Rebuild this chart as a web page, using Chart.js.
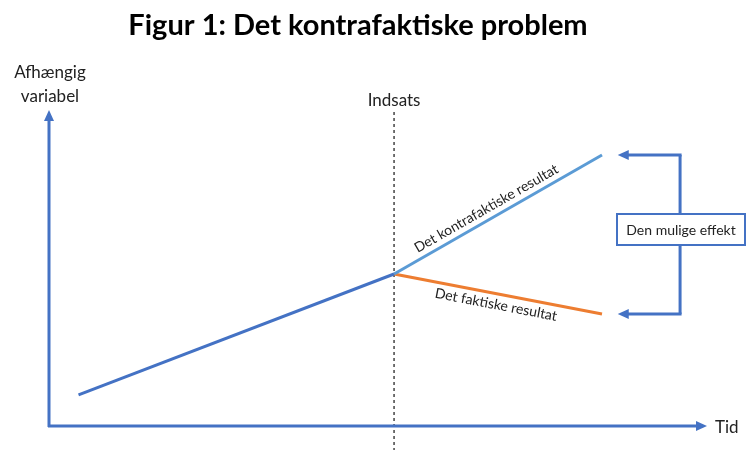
<!DOCTYPE html>
<html>
<head>
<meta charset="utf-8">
<script src="https://cdn.jsdelivr.net/npm/chart.js@4"></script>
<style>
  body { margin: 0; background: #fff; }
  #wrap { width: 755px; height: 450px; position: relative; }
</style>
</head>
<body>
<div id="wrap"><canvas id="figur"></canvas></div>
<script>
// Data (x = tid, y = afhængig variabel, both 0-100)
const tid = [4.5, 52.6, 84.3];
const foer = [9.9, 48.4];
const kontrafaktisk = [48.4, 86.3];
const faktisk = [48.4, 35.7];
const indsats = 52.6;
const bracketX = [86.7, 96.2];

const title = 'Figur 1: Det kontrafaktiske problem';
const yLabel = ['Afhængig', 'variabel'];
const xLabel = 'Tid';
const indsatsLabel = 'Indsats';
const kontraLabel = 'Det kontrafaktiske resultat';
const faktiskLabel = 'Det faktiske resultat';
const effektLabel = 'Den mulige effekt';

const darkBlue = '#4472C4';
const lightBlue = '#5B9BD5';
const orange = '#ED7D31';
const textCol = '#222';
const font = 'Lato, "Open Sans", sans-serif';

function arrow(ctx, x1, y1, x2, y2, color) {
  const a = Math.atan2(y2 - y1, x2 - x1);
  const len = 11, w = 5;
  ctx.strokeStyle = color;
  ctx.fillStyle = color;
  ctx.lineWidth = 3;
  ctx.beginPath();
  ctx.moveTo(x1, y1);
  ctx.lineTo(x2 - Math.cos(a) * (len - 2), y2 - Math.sin(a) * (len - 2));
  ctx.stroke();
  ctx.beginPath();
  ctx.moveTo(x2, y2);
  ctx.lineTo(x2 - Math.cos(a) * len - Math.sin(a) * w, y2 - Math.sin(a) * len + Math.cos(a) * w);
  ctx.lineTo(x2 - Math.cos(a) * len + Math.sin(a) * w, y2 - Math.sin(a) * len - Math.cos(a) * w);
  ctx.closePath();
  ctx.fill();
}

function segLabel(ctx, p0, p1, t, offset, text) {
  const a = Math.atan2(p1.y - p0.y, p1.x - p0.x);
  const mx = p0.x + (p1.x - p0.x) * t;
  const my = p0.y + (p1.y - p0.y) * t;
  ctx.save();
  ctx.translate(mx + Math.sin(a) * offset, my - Math.cos(a) * offset);
  ctx.rotate(a);
  ctx.fillText(text, 0, 0);
  ctx.restore();
}

const diagram = {
  id: 'diagram',
  beforeDatasetsDraw(chart) {
    const { ctx, scales: { x, y } } = chart;
    const x0 = x.getPixelForValue(0), y0 = y.getPixelForValue(0);
    const xi = x.getPixelForValue(indsats);
    ctx.save();
    // dashed intervention line
    ctx.strokeStyle = '#444';
    ctx.lineWidth = 1.5;
    ctx.setLineDash([3, 3]);
    ctx.beginPath();
    ctx.moveTo(xi, y.getPixelForValue(100));
    ctx.lineTo(xi, chart.height);
    ctx.stroke();
    ctx.setLineDash([]);
    // axes
    arrow(ctx, x0, y0 + 1, x0, y.getPixelForValue(100) - 2, darkBlue);
    arrow(ctx, x0 - 1, y0, x.getPixelForValue(100) + 2, y0, darkBlue);
    ctx.restore();
  },
  afterDatasetsDraw(chart) {
    const { ctx, scales: { x, y } } = chart;
    const px = (a, b) => ({ x: x.getPixelForValue(a), y: y.getPixelForValue(b) });
    ctx.save();
    ctx.fillStyle = textCol;
    ctx.textAlign = 'center';
    ctx.textBaseline = 'middle';

    ctx.fillStyle = '#000';
    ctx.font = 'bold 29px ' + font;
    ctx.fillText(title, 358, 26);
    ctx.fillStyle = textCol;

    ctx.font = '17px ' + font;
    ctx.fillText(yLabel[0], 50, 73);
    ctx.fillText(yLabel[1], 50, 97);
    ctx.fillText(indsatsLabel, x.getPixelForValue(indsats), 101);
    ctx.textAlign = 'left';
    ctx.fillText(xLabel, 715, 428);
    ctx.textAlign = 'center';

    ctx.font = '14px ' + font;
    segLabel(ctx, px(tid[1], kontrafaktisk[0]), px(tid[2], kontrafaktisk[1]), 0.47, 11, kontraLabel);
    segLabel(ctx, px(tid[1], faktisk[0]), px(tid[2], faktisk[1]), 0.5, -11, faktiskLabel);

    // bracket for "den mulige effekt"
    const top = px(bracketX[1], kontrafaktisk[1]);
    const bot = px(bracketX[1], faktisk[1]);
    const tipX = x.getPixelForValue(bracketX[0]);
    ctx.strokeStyle = darkBlue;
    ctx.lineWidth = 3;
    ctx.beginPath();
    ctx.moveTo(top.x, top.y);
    ctx.lineTo(bot.x, bot.y);
    ctx.stroke();
    arrow(ctx, top.x + 1.5, top.y, tipX, top.y, darkBlue);
    arrow(ctx, bot.x + 1.5, bot.y, tipX, bot.y, darkBlue);

    const bx = 617, by = 214, bw = 128, bh = 31;
    ctx.fillStyle = '#fff';
    ctx.fillRect(bx, by, bw, bh);
    ctx.lineWidth = 2;
    ctx.strokeRect(bx, by, bw, bh);
    ctx.fillStyle = textCol;
    ctx.font = '14px ' + font;
    ctx.fillText(effektLabel, bx + bw / 2, by + bh / 2 + 1);
    ctx.restore();
  }
};

new Chart(document.getElementById('figur'), {
  type: 'scatter',
  data: {
    datasets: [
      { data: [{ x: tid[0], y: foer[0] }, { x: tid[1], y: foer[1] }], borderColor: darkBlue },
      { data: [{ x: tid[1], y: kontrafaktisk[0] }, { x: tid[2], y: kontrafaktisk[1] }], borderColor: lightBlue },
      { data: [{ x: tid[1], y: faktisk[0] }, { x: tid[2], y: faktisk[1] }], borderColor: orange }
    ]
  },
  options: {
    responsive: true,
    maintainAspectRatio: false,
    animation: false,
    showLine: true,
    layout: { padding: { left: 49, right: 50, top: 112, bottom: 24 } },
    elements: {
      line: { borderWidth: 3, borderCapStyle: 'butt' },
      point: { radius: 0, hoverRadius: 0 }
    },
    scales: {
      x: { type: 'linear', min: 0, max: 100, display: false },
      y: { type: 'linear', min: 0, max: 100, display: false }
    },
    plugins: {
      legend: { display: false },
      title: { display: false },
      tooltip: { enabled: false }
    }
  },
  plugins: [diagram]
});
</script>
</body>
</html>
